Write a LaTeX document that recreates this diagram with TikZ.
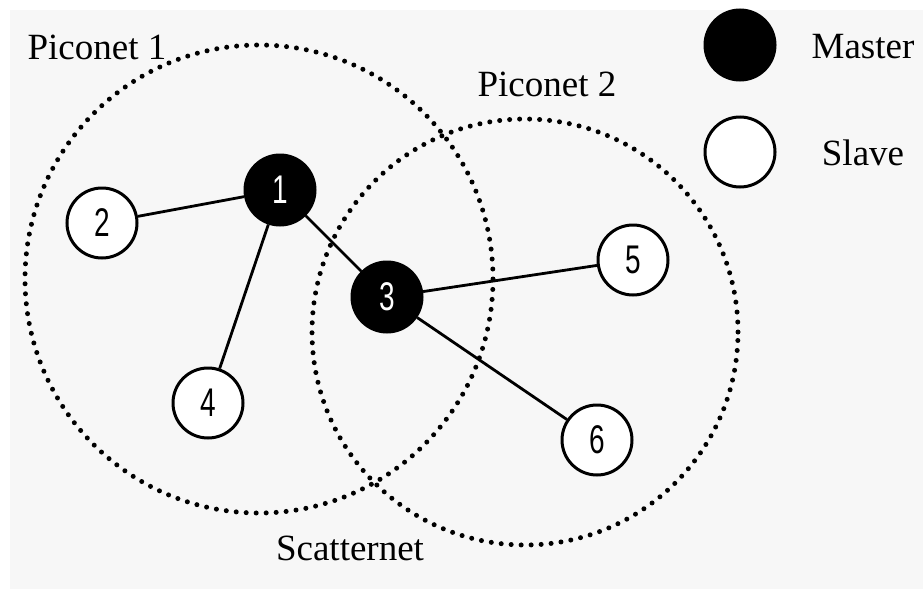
\documentclass[tikz,border=0pt]{standalone}
\usepackage{fontspec}
\usepackage{graphicx}
\setmainfont{Liberation Serif}
\newfontfamily\numfont{Liberation Sans}
\begin{document}
\begin{tikzpicture}[x=1pt,y=-1pt,
  dev/.style={circle,draw=black,line width=3pt,minimum size=70pt,inner sep=0pt,
    font=\numfont\fontsize{40}{40}\selectfont},
  slave/.style={dev,fill=white,text=black},
  master/.style={dev,fill=black,text=white},
  ring/.style={circle,draw=black,line width=5pt,dash pattern=on 0pt off 10pt,line cap=round,inner sep=0pt},
  link/.style={line width=2.8pt,draw=black},
  lbl/.style={font=\fontsize{37}{37}\selectfont,inner sep=0pt}]
\useasboundingbox (0,0) rectangle (923,589);
\fill[white] (0,0) rectangle (923,589);
\fill[black!3] (10,10) rectangle (923,589);
% piconet rings
\node[ring,minimum size=468pt] (p1) at (259,279) {};
\node[ring,minimum size=426pt] (p2) at (525,332) {};
% devices
\node[master] (n1) at (280,190) {\scalebox{0.7}[1]{1}};
\node[slave]  (n2) at (102,223) {\scalebox{0.7}[1]{2}};
\node[master] (n3) at (387,297) {\scalebox{0.7}[1]{3}};
\node[slave]  (n4) at (208,403) {\scalebox{0.7}[1]{4}};
\node[slave]  (n5) at (633,260) {\scalebox{0.7}[1]{5}};
\node[slave]  (n6) at (597,440) {\scalebox{0.7}[1]{6}};
% links
\draw[link] (n2) -- (n1);
\draw[link] (n1) -- (n4);
\draw[link] (n1) -- (n3);
\draw[link] (n3) -- (n5);
\draw[link] (n3) -- (n6);
% labels
\node[lbl] (t1) at (97,47) {Piconet 1};
\node[lbl] (t2) at (547,84) {Piconet 2};
\node[lbl] (t3) at (350,548) {Scatternet};
% legend
\node[master] (lm) at (740,45) {};
\node[slave]  (ls) at (740,152) {};
\node[lbl] (tm) at (863,47) {Master};
\node[lbl] (ts) at (863,153) {Slave};
\end{tikzpicture}
\end{document}
